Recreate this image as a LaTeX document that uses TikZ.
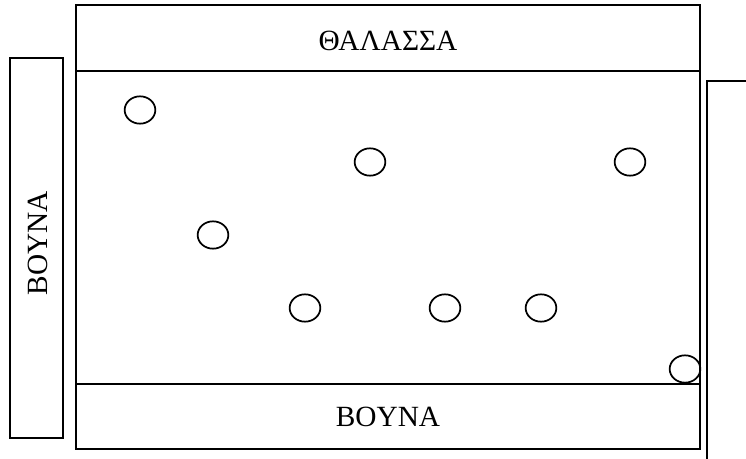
\documentclass[tikz,border=0pt]{standalone}
\usepackage{fontspec}
\setmainfont{Liberation Serif}
\usetikzlibrary{shapes.geometric}
\begin{document}
\begin{tikzpicture}[x=0.75pt,y=-0.75pt,
  box/.style={draw=black,line width=1.3pt},
  lbl/.style={font=\fontsize{22}{25}\selectfont,inner sep=0pt},
  well/.style={ellipse,draw=black,line width=1.3pt,minimum width=23pt,minimum height=20.5pt,inner sep=0pt}]
\useasboundingbox (0,0) rectangle (746,459);
% boxes
\draw[box] (76,5) rectangle (700,71);
\draw[box] (76,71) rectangle (700,384);
\draw[box] (76,384) rectangle (700,449);
\draw[box] (10,58) rectangle (63,438);
\draw[box,line width=1.8pt] (76,71) -- (700,71);
% right edge line
\coordinate (rt) at (746,81);
\coordinate (rc) at (707,81);
\coordinate (rb) at (707,459);
\draw[box] (rt) -- (rc) -- (rb);
% labels
\node[lbl] (sea) at (388,41) {ΘΑΛΑΣΣΑ};
\node[lbl] (mb) at (388,417) {BOYNA};
\node[lbl,rotate=90] (ml) at (38,243) {BOYNA};
% wells
\node[well] (c1) at (140,110) {};
\node[well] (c2) at (370,162) {};
\node[well] (c3) at (630,162) {};
\node[well] (c4) at (213,235) {};
\node[well] (c5) at (305,308) {};
\node[well] (c6) at (445,308) {};
\node[well] (c7) at (541,308) {};
\node[well] (c8) at (685,369) {};
\end{tikzpicture}
\end{document}
